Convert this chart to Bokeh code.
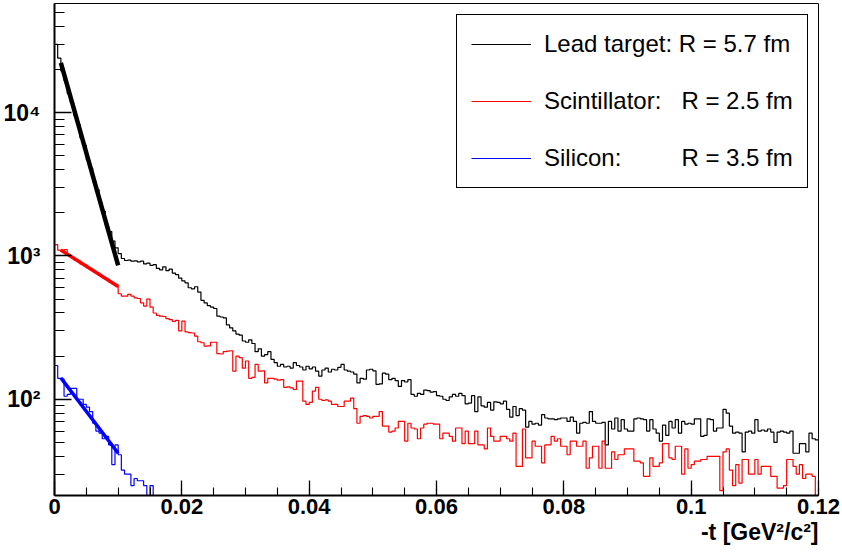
import numpy as np
from bokeh.plotting import figure
from bokeh.models import Range1d, FixedTicker, Legend, LegendItem, Title
from bokeh.embed import file_html
from bokeh.resources import INLINE

# ---------------- data ----------------
bin_width = 0.0005
x_min, x_max = 0.0, 0.12
y_min, y_max = 21.3, 57800.0

lead_counts = [
    30000, 24000, 19600, 16800, 13600, 11800, 9600, 8300, 6700, 5900,
    4700, 4100, 3300, 2900, 2350, 2050, 1620, 1480, 1270, 1140,
    1040, 960, 930, 935, 920, 925, 910, 920, 880, 890,
    860, 870, 820, 800, 840, 790, 810, 760, 740, 700,
    670, 650, 600, 590, 610, 560, 490, 470, 450, 440,
    430, 380, 375, 370, 330, 315, 300, 285, 280, 255,
    250, 260, 245, 215, 225, 200, 205, 215, 190, 180,
    170, 175, 168, 170, 165, 180, 172, 168, 160, 170,
    163, 168, 157, 145, 160, 165, 155, 162, 160, 167,
    175, 160, 157, 155, 150, 130, 140, 138, 160, 162,
    158, 127, 128, 152, 150, 137, 140, 135, 123, 135,
    132, 137, 108, 105, 110, 108, 116, 115, 112, 113,
    106, 105, 100, 98, 104, 108, 105, 110, 106, 93,
    94, 106, 82, 104, 90, 88, 95, 84, 96, 95,
    93, 97, 85, 75, 89, 77, 86, 84, 64, 70,
    67, 68, 66, 78, 74, 73, 73, 72, 73, 74,
    74, 70, 75, 70, 58, 68, 69, 68, 82, 70,
    68, 68, 69, 48, 70, 62, 74, 60, 72, 62,
    60, 60, 73, 74, 73, 72, 60, 72, 62, 58,
    51, 66, 56, 70, 63, 72, 58, 70, 67, 68,
    67, 73, 73, 55, 56, 73, 72, 60, 63, 63,
    85, 80, 65, 58, 59, 58, 43, 59, 60, 58,
    72, 60, 61, 60, 62, 59, 50, 59, 60, 59,
    58, 60, 42, 42, 49, 49, 43, 58, 53, 52,
]

scint_counts = [
    1200, 1100, 1080, 1110, 1010, 990, 940, 930, 880, 870,
    830, 815, 780, 765, 730, 715, 690, 660, 640, 620,
    545, 525, 524, 540, 525, 510, 505, 471, 447, 500,
    440, 400, 385, 380, 378, 365, 360, 350, 355, 300,
    351, 295, 292, 290, 276, 252, 248, 235, 236, 250,
    250, 208, 207, 215, 217, 218, 157, 200, 195, 165,
    185, 140, 142, 175, 157, 158, 130, 140, 140, 138,
    136, 137, 121, 122, 120, 117, 134, 134, 97, 92,
    95, 114, 121, 100, 98, 99, 97, 92, 92, 89,
    89, 97, 97, 102, 86, 68, 76, 77, 76, 74,
    76, 76, 82, 65, 65, 59, 60, 63, 70, 70,
    51, 68, 63, 62, 53, 63, 67, 68, 68, 67,
    67, 53, 58, 58, 55, 51, 63, 63, 49, 60,
    49, 49, 60, 48, 48, 45, 63, 55, 51, 51,
    55, 55, 53, 51, 58, 34, 34, 62, 39, 39,
    51, 47, 47, 36, 48, 48, 55, 51, 53, 47,
    47, 41, 51, 51, 47, 47, 51, 33, 39, 47,
    47, 33, 51, 33, 33, 43, 38, 41, 41, 45,
    45, 45, 37, 37, 36, 29, 29, 39, 34, 34,
    36, 49, 49, 39, 38, 47, 47, 30, 45, 33,
    35, 37, 37, 38, 38, 40, 40, 40, 40, 23,
    43, 45, 32, 25, 35, 26, 38, 38, 30, 30,
    38, 30, 34, 34, 34, 29, 29, 24, 24, 25,
    38, 38, 34, 30, 35, 28, 30, 30, 29, 15,
]

silicon_counts = [
    172, 140, 138, 105, 108, 119, 119, 100, 100, 92,
    88, 82, 68, 60, 58, 53, 55, 48, 35, 48,
    41, 32, 30, 30, 25, 28, 27, 27, 25, 0,
    25,
] + [0] * 209

# exponential fits (end points of the fitted range)
fit_t = [0.001, 0.010]
lead_fit = [22300, 860]
scint_fit = [1100, 612]
silicon_fit = [141, 42]

x_ticks = [0.0, 0.02, 0.04, 0.06, 0.08, 0.10, 0.12]
x_tick_labels = ["0", "0.02", "0.04", "0.06", "0.08", "0.1", "0.12"]
y_ticks = [100, 1000, 10000]
y_tick_labels = ["10\u00b2", "10\u00b3", "10\u2074"]

legend_labels = [
    "Lead target: R = 5.7 fm",
    "Scintillator:" + "\u00a0" * 3 + "R = 2.5 fm",
    "Silicon:" + "\u00a0" * 9 + "R = 3.5 fm",
]
series_colors = ["#000000", "#ff0000", "#0000ff"]

FONT = "Liberation Sans"

# ---------------- figure ----------------
p = figure(
    width=842, height=554,
    x_range=Range1d(x_min, x_max), y_range=Range1d(y_min, y_max),
    y_axis_type="log",
    output_backend="svg", toolbar_location=None, title=None,
    min_border_left=54, min_border_right=24, min_border_top=3, min_border_bottom=59,
)
p.background_fill_color = "white"
p.border_fill_color = "white"
p.outline_line_color = "black"
p.outline_line_width = 1
p.xgrid.visible = False
p.ygrid.visible = False

n_bins = len(lead_counts)
edges = np.linspace(x_min, x_max, n_bins + 1)

renderers = []
for counts, color in zip([lead_counts, scint_counts, silicon_counts], series_colors):
    vals = np.asarray(counts, dtype=float)
    vals = np.where(vals <= 0, y_min, vals)  # empty bins drawn on the frame bottom
    r = p.step(x=edges, y=np.append(vals, vals[-1]), mode="after",
               line_color=color, line_width=1.2)
    renderers.append(r)

for fit, color, w in zip([lead_fit, scint_fit, silicon_fit], series_colors, [4.5, 3.5, 3.5]):
    p.line(fit_t, fit, line_color=color, line_width=w)

# axes
xa = p.xaxis[0]
ya = p.yaxis[0]
xa.ticker = FixedTicker(ticks=x_ticks, minor_ticks=[i * 0.005 for i in range(25)])
xa.major_label_overrides = dict(zip(x_ticks, x_tick_labels))
ya.ticker = FixedTicker(ticks=y_ticks,
                        minor_ticks=[m * 10 ** e for e in range(1, 5) for m in range(2, 10)])
ya.major_label_overrides = dict(zip(y_ticks, y_tick_labels))

for ax in (xa, ya):
    ax.axis_line_width = 2
    ax.axis_line_color = "black"
    ax.major_tick_out = 0
    ax.minor_tick_out = 0
    ax.major_tick_line_width = 1.3
    ax.minor_tick_line_width = 1.1
    ax.major_tick_line_color = "black"
    ax.minor_tick_line_color = "black"
    ax.major_label_text_font = FONT
    ax.major_label_text_font_style = "bold"
    ax.major_label_text_color = "black"

xa.major_tick_in = 15
xa.minor_tick_in = 8
ya.major_tick_in = 17
ya.minor_tick_in = 10
xa.major_label_text_font_size = "22px"
ya.major_label_text_font_size = "23px"
xa.major_label_standoff = 3
ya.major_label_standoff = 14

p.add_layout(Title(text="-t [GeV\u00b2/c\u00b2]", align="right", text_font=FONT,
                   text_font_size="23px", text_font_style="bold", text_color="black",
                   standoff=0, offset=0), "below")

legend = Legend(
    items=[LegendItem(label=lbl, renderers=[r]) for lbl, r in zip(legend_labels, renderers)],
    location=(402, 307), padding=14, spacing=27, glyph_width=60, glyph_height=30,
    label_standoff=13, label_text_font=FONT, label_text_font_size="24px",
    label_text_color="black", border_line_color="black", border_line_width=1,
    border_line_alpha=1.0,
    margin=0, background_fill_color="white", background_fill_alpha=1.0,
)
p.add_layout(legend)

open("out.html", "w").write(file_html(p, INLINE))
